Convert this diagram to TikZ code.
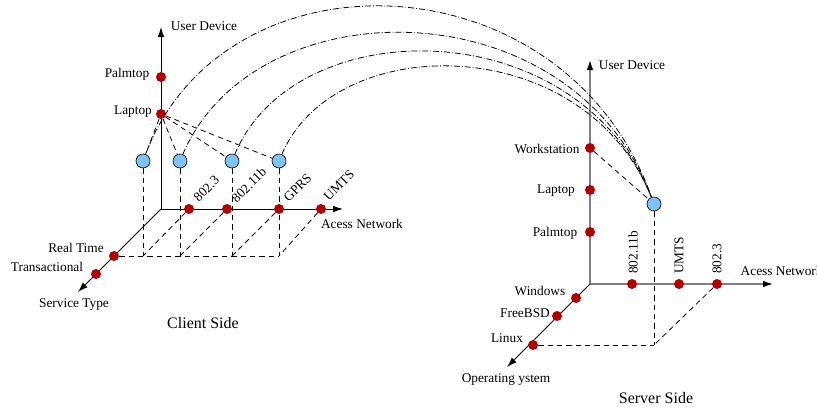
\documentclass[tikz,border=0pt]{standalone}
\usepackage{fontspec}
\setmainfont{Liberation Serif}
\usetikzlibrary{arrows.meta}

\definecolor{dotred}{RGB}{180,0,0}
\definecolor{ballblue}{RGB}{125,195,245}

\begin{document}
\begin{tikzpicture}[
                x=0.75pt, y=-0.75pt,
                dot/.style={circle, fill=dotred, inner sep=0pt, minimum size=7.5pt},
                ball/.style={circle, draw=black, fill=ballblue, inner sep=0pt, minimum size=10.5pt, line width=0.5pt},
                axis/.style={line width=0.7pt, -{Latex[length=7.5pt, width=5pt, color=black]}},
                guide/.style={line width=0.6pt, dash pattern=on 4pt off 3pt},
                link/.style={line width=0.6pt, dash pattern=on 4.5pt off 1.5pt on 0.6pt off 1.5pt},
                rotlbl/.style={inner sep=0pt} ]

            \useasboundingbox (0,0) rectangle (817,407);

            % client side axes
            \coordinate (o1) at (161,209);
            \coordinate (u1) at (161,27);
            \coordinate (a1) at (343,209);
            \coordinate (s1) at (78,292);
            \draw[axis] (o1) -- (u1);
            \draw[axis] (o1) -- (a1);
            \draw[axis] (o1) -- (s1);

            \node[dot] (palm1) at (161,77) {};
            \node[dot] (lap1) at (161,114) {};
            \node[dot] (n1) at (189,209) {};
            \node[dot] (n2) at (227,209) {};
            \node[dot] (n3) at (279,209) {};
            \node[dot] (n4) at (321,209) {};
            \node[dot] (rt1) at (114,256) {};
            \node[dot] (tr1) at (96,274) {};

            \node[ball] (b1) at (143,161) {};
            \node[ball] (b2) at (180,161) {};
            \node[ball] (b3) at (232,161) {};
            \node[ball] (b4) at (279,161) {};
            \coordinate (k1) at (143,256);
            \coordinate (k2) at (180,256);
            \coordinate (k3) at (232,256);
            \coordinate (k4) at (279,256);

            \node (ud1) at (204,26) {User Device};
            \node (palm1l) at (127,74) {Palmtop};
            \node (lap1l) at (133,112) {Laptop};
            \node[rotlbl, rotate=45, anchor=south west] (n1l) at (199,203) {802.3};
            \node[rotlbl, rotate=45, anchor=south west] (n2l) at (237,204) {802.11b};
            \node[rotlbl, rotate=45, anchor=south west] (n3l) at (289,203) {GPRS};
            \node[rotlbl, rotate=45, anchor=south west] (n4l) at (329,202) {UMTS};
            \node (an1) at (362,224) {Acess Network};
            \node (rt1l) at (76,248) {Real Time};
            \node (tr1l) at (47,267) {Transactional};
            \node (st1) at (74,305) {Service Type};
            \node[font=\large] (cs) at (203,323) {Client Side};

            \foreach \i in {1,2,3,4} {
                \draw[guide] (lap1) -- (b\i);
                \draw[guide] (b\i) -- (k\i);
                \draw[guide] (n\i) -- (k\i);
            }
            \draw[guide] (rt1) -- (k4);

            % server side axes
            \coordinate (o2) at (590,284);
            \coordinate (u2) at (590,60);
            \coordinate (a2) at (773,284);
            \coordinate (s2) at (507,367);
            \draw[axis, gray, line width=1.1pt] (o2) -- (u2);
            \draw[axis, gray, line width=1.1pt] (o2) -- (a2);
            \draw[axis] (o2) -- (s2);

            \node[dot] (ws2) at (590,148) {};
            \node[dot] (lap2) at (590,190) {};
            \node[dot] (palm2) at (590,232) {};
            \node[dot] (w2) at (632,284) {};
            \node[dot] (m2) at (679,284) {};
            \node[dot] (e2) at (717,284) {};
            \node[dot] (win2) at (576,298) {};
            \node[dot] (fb2) at (557,316) {};
            \node[dot] (lin2) at (533,345) {};

            \node[ball] (bs) at (654,204) {};
            \coordinate (ks) at (654,345);

            \node (ud2) at (632,65) {User Device};
            \node (ws2l) at (547,149) {Workstation};
            \node (lap2l) at (556,191) {Laptop};
            \node (palm2l) at (555,233) {Palmtop};
            \node[rotlbl, rotate=90, anchor=west] (w2l) at (633,274) {802.11b};
            \node[rotlbl, rotate=90, anchor=west] (m2l) at (679,274) {UMTS};
            \node[rotlbl, rotate=90, anchor=west] (e2l) at (717,274) {802.3};
            \node[anchor=west] (an2) at (736,271) {Acess Network};
            \node (win2l) at (540,291) {Windows};
            \node (fb2l) at (525,313) {FreeBSD};
            \node (lin2l) at (507,338) {Linux};
            \node (os2) at (506,380) {Operating ystem};
            \node[font=\large] (ss) at (656,398) {Server Side};

            \draw[guide] (ws2) -- (bs);
            \draw[guide] (bs) -- (ks);
            \draw[guide] (lin2) -- (ks);
            \draw[guide] (e2) -- (ks);

            % client to server
            \draw[link] (b1) .. controls (225,-55) and (565,-45) .. (bs);
            \draw[link] (b2) .. controls (255,-15) and (572,-15) .. (bs);
            \draw[link] (b3) .. controls (295,10) and (578,10) .. (bs);
            \draw[link] (b4) .. controls (335,30) and (584,30) .. (bs);
        \end{tikzpicture}
\end{document}
